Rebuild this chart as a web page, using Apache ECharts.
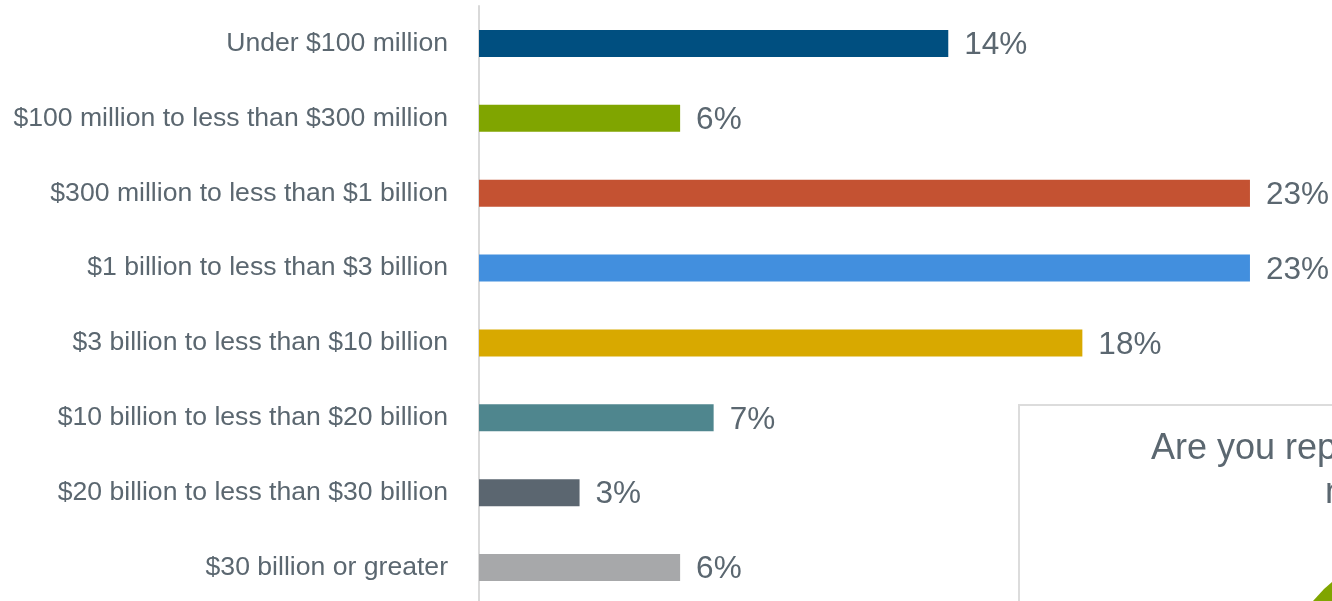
<!DOCTYPE html>
<html>
<head>
<meta charset="utf-8">
<style>
  html, body { margin: 0; padding: 0; background: #ffffff; overflow: hidden; }
  #chart { width: 1332px; height: 612px; }
</style>
<script src="https://cdn.jsdelivr.net/npm/echarts@6/dist/echarts.min.js"></script>
</head>
<body>
<div id="chart"></div>
<script>
// Revenue bands (top to bottom) and share of respondents, in percent
const categories = [
  'Under $100 million',
  '$100 million to less than $300 million',
  '$300 million to less than $1 billion',
  '$1 billion to less than $3 billion',
  '$3 billion to less than $10 billion',
  '$10 billion to less than $20 billion',
  '$20 billion to less than $30 billion',
  '$30 billion or greater'
];
const shares = [14, 6, 23, 23, 18, 7, 3, 6];
const barColors = ['#004f80', '#80a500', '#c45232', '#428fde', '#d8a900', '#4f868e', '#5b6670', '#a7a8aa'];

const textColor = '#5b6770';
const font = 'Liberation Sans, Arial, sans-serif';

const chart = echarts.init(document.getElementById('chart'), null, { renderer: 'canvas' });

chart.setOption({
  animation: false,
  backgroundColor: '#ffffff',
  grid: { left: 479, right: 15, top: 6, height: 599, containLabel: false, outerBoundsMode: 'none' },
  xAxis: {
    type: 'value',
    min: 0,
    max: 25,
    show: false
  },
  yAxis: {
    type: 'category',
    data: categories,
    inverse: true,
    axisTick: { show: false },
    axisLine: { show: true, lineStyle: { color: '#d9d9d9', width: 2 } },
    axisLabel: {
      margin: 31,
      color: textColor,
      fontFamily: font,
      fontSize: 26.6
    }
  },
  series: [{
    type: 'bar',
    barWidth: 27,
    data: shares.map((v, i) => ({ value: v, itemStyle: { color: barColors[i] } })),
    label: {
      show: true,
      position: 'right',
      distance: 16,
      offset: [0, 2],
      formatter: '{c}%',
      color: textColor,
      fontFamily: font,
      fontSize: 31.5
    }
  }],
  graphic: [
    {
      type: 'rect',
      z: 100,
      shape: { x: 1019, y: 405, width: 420, height: 260 },
      style: { fill: '#ffffff', stroke: '#dcdcdc', lineWidth: 2 }
    },
    {
      type: 'text',
      z: 101,
      x: 1151,
      y: 449,
      style: {
        text: 'Are you reporting',
        fill: textColor,
        font: '36px ' + font,
        textAlign: 'left',
        textVerticalAlign: 'middle'
      }
    },
    {
      type: 'text',
      z: 101,
      x: 1325,
      y: 493,
      style: {
        text: 'n',
        fill: textColor,
        font: '36px ' + font,
        textAlign: 'left',
        textVerticalAlign: 'middle'
      }
    },
    {
      type: 'polygon',
      z: 101,
      shape: { points: [[1313, 601], [1324, 589], [1332, 582], [1332, 601]] },
      style: { fill: '#80a500' }
    }
  ]
});
</script>
</body>
</html>
